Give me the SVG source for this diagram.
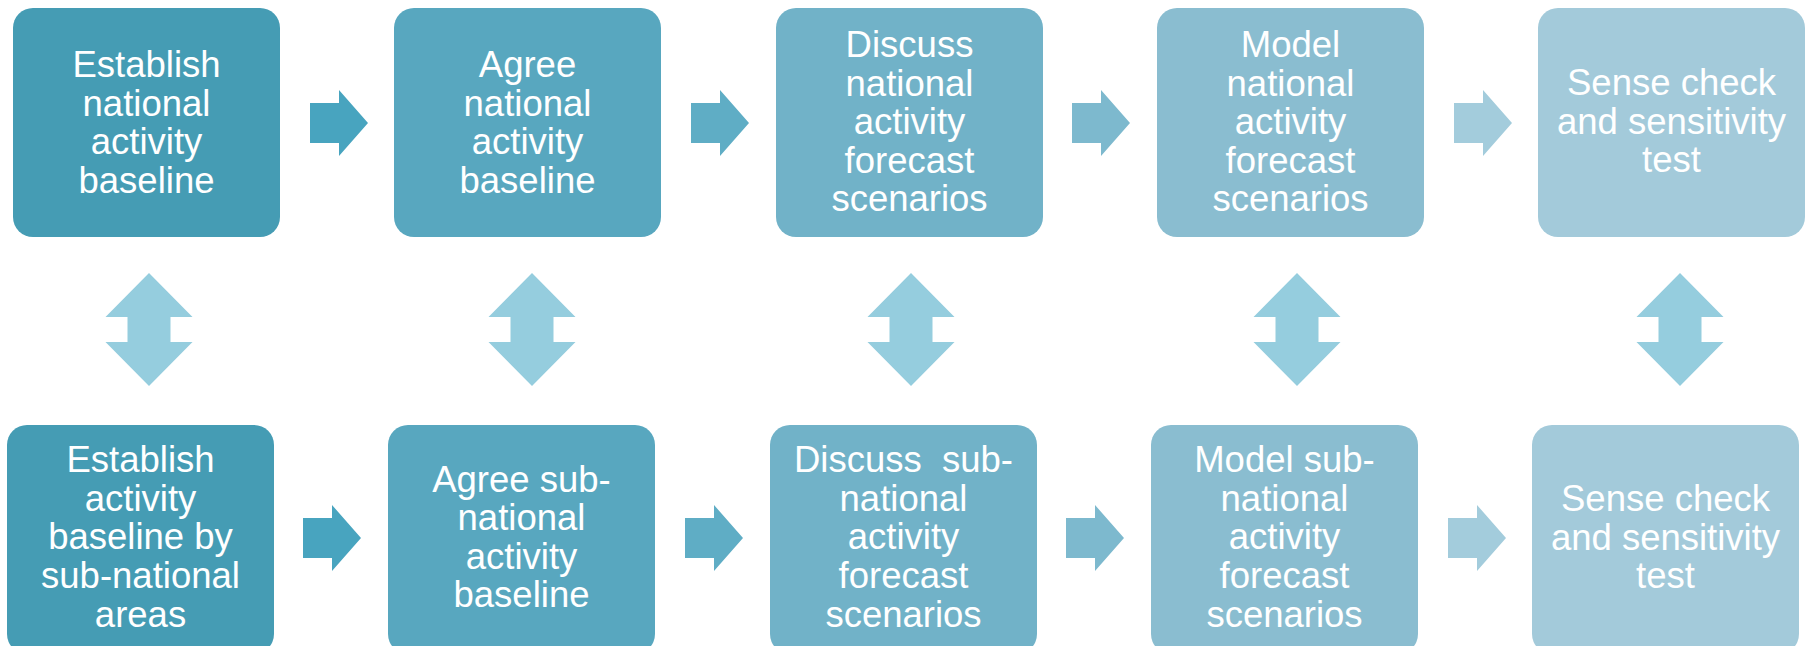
<svg xmlns="http://www.w3.org/2000/svg" width="1806" height="646" viewBox="0 0 1806 646">
<style>
.t{font-family:"Liberation Sans",Arial,sans-serif;font-size:36.5px;fill:#ffffff;text-anchor:middle;white-space:pre}
</style>
<defs>
<path id="ra" d="M0,0 H29 V-13 L58,20 L29,53 V40 H0 Z"/>
<path id="da" d="M0,0 L43.5,44 H21.5 V69 H43.5 L0,113 L-43.5,69 H-21.5 V44 H-43.5 Z"/>
</defs>
<rect width="1806" height="646" fill="#ffffff"/>
<g id="connectors">
<use href="#ra" x="310" y="103" fill="#48A4BF"/>
<use href="#ra" x="691" y="103" fill="#5FADC5"/>
<use href="#ra" x="1072" y="103" fill="#7DB9CE"/>
<use href="#ra" x="1454" y="103" fill="#A3CCDC"/>
<use href="#ra" x="303" y="518" fill="#48A4BF"/>
<use href="#ra" x="685" y="518" fill="#5FADC5"/>
<use href="#ra" x="1066" y="518" fill="#7DB9CE"/>
<use href="#ra" x="1448" y="518" fill="#A3CCDC"/>
<g fill="#95CDDE">
<use href="#da" x="149" y="273"/>
<use href="#da" x="532" y="273"/>
<use href="#da" x="911" y="273"/>
<use href="#da" x="1297" y="273"/>
<use href="#da" x="1680" y="273"/>
</g>
</g>
<g id="n1">
<rect x="13" y="8" width="267" height="229" rx="20" fill="#459CB4"/>
<text class="t" x="146.5" y="77">Establish</text>
<text class="t" x="146.5" y="115.5">national</text>
<text class="t" x="146.5" y="154">activity</text>
<text class="t" x="146.5" y="192.5">baseline</text>
</g>
<g id="n2">
<rect x="394" y="8" width="267" height="229" rx="20" fill="#58A7BF"/>
<text class="t" x="527.5" y="77">Agree</text>
<text class="t" x="527.5" y="115.5">national</text>
<text class="t" x="527.5" y="154">activity</text>
<text class="t" x="527.5" y="192.5">baseline</text>
</g>
<g id="n3">
<rect x="776" y="8" width="267" height="229" rx="20" fill="#71B2C8"/>
<text class="t" x="909.5" y="57">Discuss</text>
<text class="t" x="909.5" y="95.5">national</text>
<text class="t" x="909.5" y="134">activity</text>
<text class="t" x="909.5" y="172.5">forecast</text>
<text class="t" x="909.5" y="211">scenarios</text>
</g>
<g id="n4">
<rect x="1157" y="8" width="267" height="229" rx="20" fill="#8ABDD0"/>
<text class="t" x="1290.5" y="57">Model</text>
<text class="t" x="1290.5" y="95.5">national</text>
<text class="t" x="1290.5" y="134">activity</text>
<text class="t" x="1290.5" y="172.5">forecast</text>
<text class="t" x="1290.5" y="211">scenarios</text>
</g>
<g id="n5">
<rect x="1538" y="8" width="267" height="229" rx="20" fill="#A3CADA"/>
<text class="t" x="1671.5" y="95">Sense check</text>
<text class="t" x="1671.5" y="133.5">and sensitivity</text>
<text class="t" x="1671.5" y="172">test</text>
</g>
<g id="n6">
<rect x="7" y="425" width="267" height="229" rx="20" fill="#459CB4"/>
<text class="t" x="140.5" y="472">Establish</text>
<text class="t" x="140.5" y="510.5">activity</text>
<text class="t" x="140.5" y="549">baseline by</text>
<text class="t" x="140.5" y="588">sub-national</text>
<text class="t" x="140.5" y="627">areas</text>
</g>
<g id="n7">
<rect x="388" y="425" width="267" height="229" rx="20" fill="#58A7BF"/>
<text class="t" x="521.5" y="491.5">Agree sub-</text>
<text class="t" x="521.5" y="530">national</text>
<text class="t" x="521.5" y="568.5">activity</text>
<text class="t" x="521.5" y="607">baseline</text>
</g>
<g id="n8">
<rect x="770" y="425" width="267" height="229" rx="20" fill="#71B2C8"/>
<text class="t" x="903.5" y="472">Discuss  sub-</text>
<text class="t" x="903.5" y="510.5">national</text>
<text class="t" x="903.5" y="549">activity</text>
<text class="t" x="903.5" y="588">forecast</text>
<text class="t" x="903.5" y="627">scenarios</text>
</g>
<g id="n9">
<rect x="1151" y="425" width="267" height="229" rx="20" fill="#8ABDD0"/>
<text class="t" x="1284.5" y="472">Model sub-</text>
<text class="t" x="1284.5" y="510.5">national</text>
<text class="t" x="1284.5" y="549">activity</text>
<text class="t" x="1284.5" y="588">forecast</text>
<text class="t" x="1284.5" y="627">scenarios</text>
</g>
<g id="n10">
<rect x="1532" y="425" width="267" height="229" rx="20" fill="#A3CADA"/>
<text class="t" x="1665.5" y="511">Sense check</text>
<text class="t" x="1665.5" y="549.5">and sensitivity</text>
<text class="t" x="1665.5" y="588">test</text>
</g>
</svg>
